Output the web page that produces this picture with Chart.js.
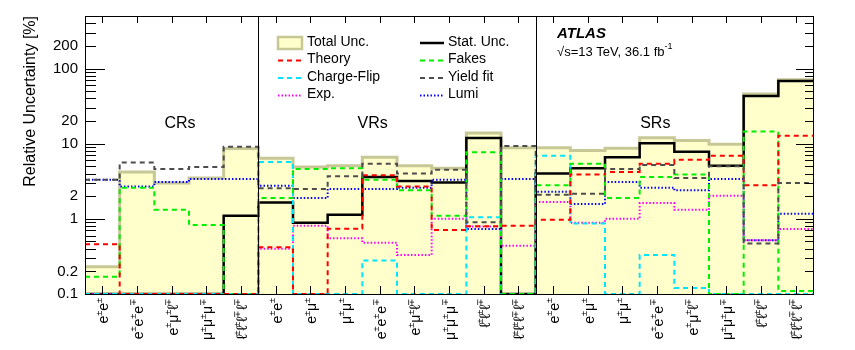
<!DOCTYPE html>
<html>
<head>
<meta charset="utf-8">
<script src="https://cdn.jsdelivr.net/npm/chart.js@4.4.1/dist/chart.umd.min.js"></script>
<style>
  html, body { margin: 0; padding: 0; background: #fff; }
</style>
</head>
<body>
<canvas id="grafico" width="855" height="350"></canvas>
<script>
// bins: 5 CRs, 8 VRs, 8 SRs
const categorias = [
  "e±e±", "e±e±e∓", "e±μ±ℓ∓", "μ±μ±μ∓", "ℓ±ℓ±ℓ∓ℓ∓",
  "e±e±", "e±μ±", "μ±μ±", "e±e±e∓", "e±μ±ℓ∓", "μ±μ±μ∓", "ℓ±ℓ±ℓ∓", "ℓ±ℓ±ℓ∓ℓ∓",
  "e±e±", "e±μ±", "μ±μ±", "e±e±e∓", "e±μ±ℓ∓", "μ±μ±μ∓", "ℓ±ℓ±ℓ∓", "ℓ±ℓ±ℓ∓ℓ∓"
];
const regiones = ["CRs", "VRs", "SRs"];
const limitesRegion = [5, 13];
const yTicks = [0.1, 0.2, 1, 2, 10, 20, 100, 200];

// relative uncertainties [%], 0.1 = floor of the plot
const totalUnc   = [0.23, 4.2, 3.0, 3.5, 8.6,  6.4, 4.9, 5.1, 6.6, 5.1, 4.7, 13.9, 8.8,  8.8, 8.1, 8.7, 12.0, 11.0, 9.8, 46, 71];
const statUnc    = [0.1, 0.1, 0.1, 0.1, 1.1,  1.65, 0.89, 1.13, 3.6, 3.2, 3.05, 11.9, 0.1,  4.0, 4.7, 6.6, 10.1, 7.8, 5.1, 43, 68];
const theory     = [0.46, 0.1, 0.1, 0.1, 0.1,  0.42, 0.1, 0.74, 3.8, 2.7, 0.71, 0.8, 0.81,  0.97, 3.9, 4.2, 5.4, 6.1, 6.9, 2.8, 12.8];
const fakes      = [0.17, 2.6, 1.32, 0.83, 0.1,  1.9, 4.6, 4.7, 3.3, 2.4, 1.1, 7.7, 0.1,  2.8, 5.4, 1.9, 3.6, 3.9, 0.1, 14.5, 0.11];
const chargeFlip = [0.1, 0.1, 0.1, 0.1, 0.1,  5.7, 0.1, 0.1, 0.28, 0.1, 0.1, 1.05, 0.1,  6.9, 0.87, 0.1, 0.33, 0.12, 0.1, 0.1, 0.1];
const yieldFit   = [3.3, 5.6, 4.6, 4.9, 9.1,  2.56, 2.5, 3.7, 5.4, 4.0, 4.5, 0.9, 9.3,  2.1, 2.15, 4.6, 5.2, 3.5, 5.0, 0.47, 3.0];
const expUnc     = [0.1, 0.1, 0.1, 0.1, 0.1,  0.40, 0.81, 0.55, 0.48, 0.33, 1.0, 0.79, 0.44,  1.67, 0.89, 1.0, 1.62, 1.32, 2.03, 0.52, 0.73];
const lumi       = [3.3, 2.7, 3.1, 3.4, 3.4,  2.75, 1.89, 2.5, 2.5, 2.6, 3.3, 0.73, 3.4,  2.3, 1.57, 3.1, 2.6, 2.4, 3.4, 0.52, 1.17];

const FUENTE = '"Liberation Sans", Arial, sans-serif';

// histogram edges: one point per left edge plus the closing right edge
function escalones(arr) {
  const pts = arr.map((v, i) => ({ x: i, y: v }));
  pts.push({ x: arr.length, y: arr[arr.length - 1] });
  return pts;
}

function linea(label, arr, color, dash, width, orden) {
  return {
    label: label,
    data: escalones(arr),
    borderColor: color,
    borderDash: dash,
    borderWidth: width,
    fill: false,
    stepped: 'before',
    pointRadius: 0,
    clip: 0,
    order: orden
  };
}

const datasets = [
  {
    label: "Total Unc.",
    data: escalones(totalUnc),
    borderColor: "#c8c896",
    backgroundColor: "#ffffcc",
    borderWidth: 3,
    fill: 'start',
    stepped: 'before',
    pointRadius: 0,
    order: 20
  },
  linea("Stat. Unc.", statUnc, "#000000", [], 2.5, 9),
  linea("Theory", theory, "#ff0000", [5, 4], 2, 3),
  linea("Fakes", fakes, "#00ee00", [5, 4], 2, 4),
  linea("Charge-Flip", chargeFlip, "#00e5ff", [5, 4], 2, 5),
  linea("Yield fit", yieldFit, "#4d4d4d", [5, 4], 2, 2),
  linea("Exp.", expUnc, "#ff00ff", [1.5, 2], 2, 6),
  linea("Lumi", lumi, "#0000ff", [1.5, 2], 2, 7)
];

// x labels with superscript charges
function fuenteCar(ch) {
  if (ch === "±" || ch === "∓") return "9px " + FUENTE;
  if (ch === "ℓ") return "15px " + FUENTE;
  return "14px " + FUENTE;
}

function etiquetaX(ctx, texto, x, yTop) {
  const partes = [...texto].map(ch => ({ ch: ch, sup: ch === "±" || ch === "∓" }));
  let total = 0;
  partes.forEach((p, i) => {
    ctx.font = fuenteCar(p.ch);
    p.w = ctx.measureText(p.ch).width;
    if (p.ch === "ℓ") p.w -= 1;
    total += p.w;
  });
  ctx.save();
  ctx.translate(x, yTop);
  ctx.rotate(-Math.PI / 2);
  ctx.textBaseline = "middle";
  ctx.textAlign = "left";
  let pos = -total;
  partes.forEach(p => {
    ctx.font = fuenteCar(p.ch);
    ctx.fillText(p.ch, pos, p.sup ? -4 : 1);
    pos += p.w;
  });
  ctx.restore();
}

const marcoPlugin = {
  id: "marco",
  afterDraw(chart) {
    const ctx = chart.ctx;
    const a = chart.chartArea;
    const xs = chart.scales.x, ys = chart.scales.y;
    ctx.save();
    ctx.strokeStyle = "#000";
    ctx.fillStyle = "#000";
    ctx.lineWidth = 1;

    // region separators
    limitesRegion.forEach(b => {
      const px = Math.round(xs.getPixelForValue(b)) + 0.5;
      ctx.beginPath(); ctx.moveTo(px, a.top); ctx.lineTo(px, a.bottom); ctx.stroke();
    });

    // frame
    ctx.strokeRect(Math.round(a.left) + 0.5, Math.round(a.top) + 0.5,
      Math.round(a.right - a.left), Math.round(a.bottom - a.top));

    // x ticks at bin centres, top and bottom
    ctx.beginPath();
    for (let i = 0; i < categorias.length; i++) {
      const px = Math.round(xs.getPixelForValue(i + 0.5)) + 0.5;
      ctx.moveTo(px, a.bottom); ctx.lineTo(px, a.bottom - 8);
      ctx.moveTo(px, a.top); ctx.lineTo(px, a.top + 7);
    }
    // y ticks, left and right
    for (let d = -1; d <= 2; d++) {
      for (let m = 1; m <= 9; m++) {
        const v = m * Math.pow(10, d);
        if (v < 0.1 || v > ys.max) continue;
        const py = Math.round(ys.getPixelForValue(v)) + 0.5;
        const l = m === 1 ? 20 : 11;
        ctx.moveTo(a.left, py); ctx.lineTo(a.left + l, py);
        ctx.moveTo(a.right, py); ctx.lineTo(a.right - l + 3, py);
      }
    }
    ctx.stroke();

    // x labels
    categorias.forEach((c, i) => {
      etiquetaX(ctx, c, xs.getPixelForValue(i + 0.5) + 1, a.bottom + 4);
    });

    // region names
    ctx.font = "16px " + FUENTE;
    ctx.textAlign = "center";
    ctx.textBaseline = "middle";
    const centros = [2.74, 8.3, 16.45];
    regiones.forEach((r, i) => {
      ctx.fillText(r, xs.getPixelForValue(centros[i]), 124);
    });

    // ATLAS label
    ctx.textAlign = "left";
    ctx.font = "bold italic 15px " + FUENTE;
    ctx.fillText("ATLAS", 557, 34);
    ctx.font = "13px " + FUENTE;
    const txt = "√s=13 TeV, 36.1 fb";
    ctx.fillText(txt, 557, 52);
    const w = ctx.measureText(txt).width;
    ctx.font = "9px " + FUENTE;
    ctx.fillText("-1", 557 + w, 47);

    // legend
    const filas = [42, 59.5, 77, 94.5];
    const lineaX = [278, 420];
    const textoX = [307, 448];
    chart.data.datasets.forEach((ds, k) => {
      const col = k % 2, fila = Math.floor(k / 2);
      const y = filas[fila];
      const x0 = lineaX[col];
      if (k === 0) {
        ctx.fillStyle = ds.backgroundColor;
        ctx.fillRect(x0, y - 5, 24, 12);
        ctx.strokeStyle = ds.borderColor;
        ctx.lineWidth = 2.5;
        ctx.strokeRect(x0, y - 5, 24, 12);
      } else {
        ctx.strokeStyle = ds.borderColor;
        ctx.lineWidth = ds.borderWidth;
        ctx.setLineDash(ds.borderDash);
        ctx.beginPath(); ctx.moveTo(x0, y + 1); ctx.lineTo(x0 + 24, y + 1); ctx.stroke();
        ctx.setLineDash([]);
      }
      ctx.fillStyle = "#000";
      ctx.font = "14px " + FUENTE;
      ctx.textBaseline = "middle";
      ctx.fillText(ds.label, textoX[col], y);
    });
    ctx.restore();
  }
};

new Chart(document.getElementById("grafico"), {
  type: "line",
  data: { datasets: datasets },
  options: {
    responsive: false,
    animation: false,
    devicePixelRatio: 1,
    layout: { padding: { top: 16, right: 42, left: 0, bottom: 0 } },
    plugins: { legend: { display: false }, tooltip: { enabled: false } },
    scales: {
      x: {
        type: "linear",
        min: 0,
        max: categorias.length,
        grid: { display: false, drawTicks: false },
        border: { display: false },
        ticks: { display: false },
        afterFit(scale) { scale.height = 56; }
      },
      y: {
        type: "logarithmic",
        min: 0.1,
        max: 500,
        grid: { display: false, drawTicks: false },
        border: { display: false },
        afterBuildTicks(scale) { scale.ticks = yTicks.map(v => ({ value: v })); },
        afterFit(scale) { scale.width = 85; },
        ticks: {
          padding: 7,
          color: "#000",
          font: { family: FUENTE, size: 15 },
          callback: (v) => String(v)
        },
        title: {
          display: true,
          text: "Relative Uncertainty [%]",
          align: "end",
          color: "#000",
          font: { family: FUENTE, size: 16 },
          padding: { top: 21, bottom: 0 }
        }
      }
    }
  },
  plugins: [marcoPlugin]
});
</script>
</body>
</html>
